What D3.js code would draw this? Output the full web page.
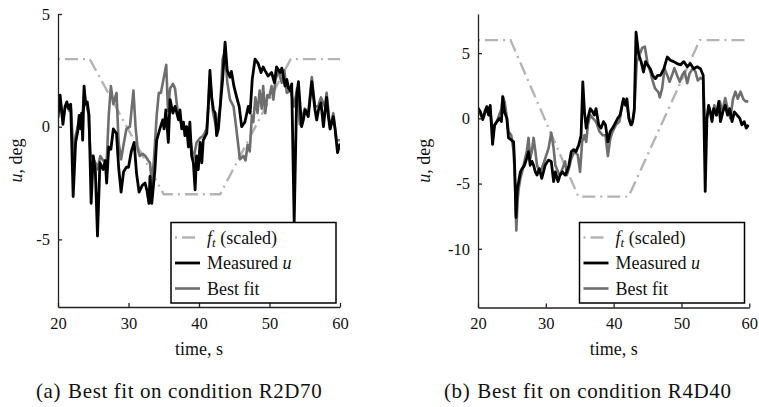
<!DOCTYPE html>
<html>
<head>
<meta charset="utf-8">
<script src="https://cdn.jsdelivr.net/npm/d3@7"></script>
<style>
  body { margin: 0; background: #fff; }
  svg text { font-family: "Liberation Serif", "Times New Roman", serif; fill: #111; }
</style>
</head>
<body>
<svg id="chart" width="759" height="407"></svg>
<script>
// time [s], value [deg] pairs

// (a) condition R2D70
var forcingA = [[20, 3], [24.5, 3], [35, -3], [43, -3], [53, 3], [60, 3]];
var measuredA = [
    [20.0, 0.4], [20.3, 1.4], [20.7, 0.1], [21.0, 0.9], [21.25, 1.1], [21.5, 0.8], [21.8, 1.0],
    [22.15, -3.1], [22.5, -0.7], [22.8, -0.2], [23.0, 0.5], [23.2, -0.1], [23.35, 0.6], [23.5, -0.6],
    [23.7, 1.8], [23.9, 1.0], [24.15, 1.1], [24.4, 0.5], [24.7, -3.4], [25.0, -1.3], [25.3, -2.0],
    [25.6, -4.85], [25.95, -1.6], [26.4, -1.9], [26.7, -1.5], [26.9, -2.5], [27.2, -0.9], [27.5, -1.0],
    [27.85, -0.1], [28.3, -0.3], [28.6, -1.8], [28.95, -2.9], [29.3, -2.0], [29.7, -1.8], [30.0, -1.8],
    [30.4, -1.1], [30.8, -0.7], [31.15, -2.1], [31.5, -2.9], [31.95, -2.6], [32.35, -2.5], [32.6, -2.8],
    [32.9, -3.4], [33.05, -2.2], [33.3, -3.4], [33.75, -1.9], [34.0, -0.6], [34.45, -0.1], [34.85, 0.3],
    [35.05, -0.1], [35.3, 0.75], [35.65, -0.7], [35.9, 1.2], [36.3, 0.6], [36.6, 0.9], [36.85, 0.6],
    [37.1, 0.3], [37.3, 0.75], [37.55, -0.1], [37.8, 0.2], [38.0, -0.4], [38.25, 0.0], [38.5, -0.9],
    [38.7, 0.2], [38.95, -1.3], [39.2, -1.6], [39.45, -2.8], [39.65, -1.3], [39.9, -1.9], [40.15, -0.7],
    [40.4, -1.6], [40.6, -0.6], [41.1, -0.3], [41.3, 0.75], [41.55, 2.5], [41.8, 1.3], [42.05, 0.75],
    [42.3, 0.6], [42.5, -0.4], [42.75, -0.1], [43.05, 1.05], [43.35, 2.1], [43.7, 3.75], [44.0, 2.5],
    [44.4, 2.2], [44.6, 2.45], [44.95, 1.8], [45.35, 1.3], [45.7, 0.9], [46.05, 0.0], [46.5, 0.2],
    [47.0, 0.9], [47.25, 0.6], [47.55, 2.1], [47.95, 3.0], [48.4, 2.8], [48.8, 2.4], [49.1, 2.65],
    [49.35, 2.5], [49.8, 2.25], [50.3, 2.4], [50.7, 1.95], [51.0, 2.65], [51.5, 2.4], [51.75, 2.6],
    [52.2, 1.8], [52.45, 2.1], [52.7, 1.7], [52.9, 1.6], [53.15, 1.9], [53.5, -4.25], [53.85, 1.3],
    [54.1, 2.0], [54.35, 0.9], [54.55, 0.0], [54.8, 0.3], [55.05, 0.75], [55.5, 0.45], [56.0, 2.0],
    [56.45, 0.75], [56.7, 0.3], [56.95, 0.75], [57.3, 1.05], [57.65, 0.0], [57.9, 0.75], [58.1, 1.3],
    [58.35, 0.45], [58.6, -0.1], [58.8, 0.15], [59.05, 0.45], [59.3, -0.1], [59.65, -1.15], [60.0, -0.75]
];
var fitA = [
    [20.0, 0.6], [20.3, 1.2], [20.7, 0.3], [21.0, 0.8], [21.3, 1.0], [21.6, 0.7], [21.85, 0.8],
    [22.2, -1.3], [22.5, -0.4], [22.8, 0.0], [23.1, 0.3], [23.4, 0.1], [23.7, 1.6], [24.0, 1.0],
    [24.3, 0.6], [24.6, -1.2], [25.0, -1.4], [25.3, -1.6], [25.6, -1.9], [26.0, -1.3], [26.4, -1.5],
    [26.9, -1.6], [27.2, 0.5], [27.5, 1.8], [27.85, 1.0], [28.3, 1.5], [28.6, -0.7], [28.95, -1.45],
    [29.3, -0.8], [29.7, -0.1], [30.2, 0.0], [30.7, 1.6], [31.0, 0.0], [31.3, -1.0], [31.6, -1.3],
    [32.0, -1.2], [32.4, -1.3], [32.8, -1.5], [33.05, -1.6], [33.3, -2.5], [33.6, -1.5], [34.0, 0.5],
    [34.3, 1.5], [34.6, 1.5], [34.9, 2.0], [35.35, 2.75], [35.6, 0.7], [35.9, 1.7], [36.3, 1.9],
    [36.6, 1.7], [37.0, 0.6], [37.4, 0.2], [37.8, -0.1], [38.2, -0.2], [38.7, -0.4], [39.2, -1.5],
    [39.65, -0.7], [40.15, -0.5], [40.6, -0.4], [41.1, -0.1], [41.55, 2.2], [42.0, 0.6], [42.5, -0.1],
    [43.0, 0.9], [43.35, 3.0], [43.7, 3.4], [44.0, 2.0], [44.4, 1.2], [44.9, 0.9], [45.3, -0.1],
    [45.6, -0.9], [45.8, -1.45], [46.3, -1.3], [46.6, -1.5], [46.9, -0.8], [47.2, -1.1], [47.5, 0.5],
    [47.7, 0.2], [48.0, 1.3], [48.3, 0.6], [48.6, 1.6], [48.9, 0.8], [49.1, 1.8], [49.4, 0.6],
    [49.7, 1.4], [49.95, 1.3], [50.3, 1.8], [50.55, 1.2], [50.85, 2.1], [51.3, 2.5], [51.5, 2.2],
    [51.75, 1.95], [52.1, 2.5], [52.45, 1.5], [53.0, 1.6], [53.5, 0.9], [53.9, 1.7], [54.3, 0.1],
    [54.6, 0.4], [55.0, 0.8], [55.5, 0.6], [56.0, 2.2], [56.45, 0.9], [56.9, 0.9], [57.3, 1.3],
    [57.85, 0.9], [58.1, 1.5], [58.6, -0.1], [59.05, 0.6], [59.5, -0.6], [60.0, -0.6]
];

// (b) condition R4D40
var forcingB = [[20, 6], [24.8, 6], [34.8, -6], [42.2, -6], [52.7, 6], [60, 6]];
var measuredB = [
    [20.0, 0.8], [20.35, 0.5], [20.7, -0.1], [21.0, 0.4], [21.3, 0.9], [21.55, 0.25], [21.8, 1.0],
    [22.15, -2.0], [22.45, -0.5], [22.8, -0.25], [23.15, 0.0], [23.45, -0.25], [23.65, 1.65], [23.9, 0.5],
    [24.25, 0.0], [24.5, -1.5], [24.9, -1.65], [25.25, -1.8], [25.4, -3.6], [25.6, -7.6], [25.8, -5.4],
    [26.0, -4.85], [26.25, -4.1], [26.5, -3.85], [26.85, -3.6], [27.2, -3.05], [27.45, -2.55], [27.7, -3.6],
    [27.95, -3.3], [28.2, -3.6], [28.45, -4.1], [28.7, -4.35], [29.05, -3.85], [29.4, -4.6], [29.9, -3.6],
    [30.4, -3.2], [30.8, -3.3], [31.15, -4.85], [31.4, -4.1], [31.8, -4.85], [32.1, -4.35], [32.45, -4.1],
    [32.85, -4.35], [33.1, -4.1], [33.4, -3.6], [33.75, -2.55], [34.1, -2.4], [34.45, -2.55], [34.85, -2.05],
    [35.2, -1.3], [35.45, 2.8], [35.7, 0.5], [35.95, -0.75], [36.2, 0.0], [36.55, 0.75], [36.9, 0.5],
    [37.15, 0.25], [37.4, 0.75], [37.8, -0.5], [38.15, -0.75], [38.5, -0.25], [38.8, -0.5], [39.15, -1.8],
    [39.5, -1.0], [39.85, -0.75], [40.1, -0.5], [40.35, -0.25], [40.6, 0.0], [40.95, 0.25], [41.25, 1.0],
    [41.45, 1.5], [41.75, 1.0], [41.95, 1.5], [42.25, 0.0], [42.55, -0.5], [42.8, -0.25], [43.05, 0.75],
    [43.3, 6.6], [43.7, 4.85], [44.05, 4.35], [44.4, 3.55], [44.7, 4.35], [45.0, 4.1], [45.4, 3.8],
    [45.75, 3.3], [46.15, 3.05], [46.5, 3.3], [46.9, 3.3], [47.4, 3.8], [47.9, 4.7], [48.35, 4.45],
    [48.85, 4.35], [49.35, 4.2], [49.85, 4.1], [50.35, 4.35], [50.85, 3.95], [51.3, 4.2], [51.8, 3.8],
    [52.3, 3.95], [52.8, 3.8], [53.2, 3.3], [53.5, -5.6], [53.75, 0.0], [54.0, 1.0], [54.25, 0.5],
    [54.5, -0.25], [54.75, 0.75], [55.15, 0.25], [55.5, 1.3], [55.75, -0.25], [56.1, 0.5], [56.45, 1.0],
    [56.8, 0.25], [57.1, 0.75], [57.45, -0.25], [57.8, 0.5], [58.2, 0.25], [58.6, 0.0], [58.9, -0.5],
    [59.25, -0.25], [59.55, -0.75], [59.9, -0.5]
];
var fitB = [
    [20.0, 0.5], [20.35, 0.3], [20.7, 0.0], [21.0, 0.6], [21.3, 0.9], [21.55, 0.5], [21.8, 0.5],
    [22.2, -1.0], [22.5, -0.5], [22.8, -0.2], [23.15, 0.3], [23.45, 0.7], [23.65, 1.7], [23.95, 1.2],
    [24.3, -0.1], [24.5, -1.0], [24.9, -1.3], [25.25, -2.5], [25.45, -4.8], [25.65, -8.6], [25.85, -6.2],
    [26.0, -5.4], [26.25, -4.6], [26.5, -4.1], [26.85, -3.3], [27.2, -2.5], [27.45, -1.5], [27.7, -3.1],
    [27.95, -2.5], [28.2, -1.5], [28.45, -2.5], [28.7, -3.6], [29.05, -4.1], [29.4, -3.85], [29.9, -3.1],
    [30.4, -2.3], [30.8, -1.1], [31.15, -2.3], [31.4, -3.6], [31.8, -4.1], [32.1, -4.35], [32.45, -3.85],
    [32.85, -3.3], [33.1, -4.35], [33.4, -3.85], [33.75, -3.1], [34.2, -2.55], [34.7, -2.8], [35.05, -4.1],
    [35.35, -1.8], [35.7, -1.3], [35.95, -1.8], [36.2, -0.5], [36.55, 0.25], [36.95, 0.0], [37.4, -0.25],
    [37.9, -1.0], [38.4, -1.3], [38.8, -1.3], [39.15, -2.9], [39.5, -1.55], [39.85, -1.0], [40.35, -0.5],
    [40.85, -0.25], [41.35, 1.3], [41.85, 1.3], [42.35, -0.25], [42.7, -0.5], [43.05, 0.5], [43.4, 4.3],
    [43.8, 4.85], [44.2, 5.4], [44.6, 5.5], [45.0, 4.2], [45.4, 3.6], [45.8, 2.8], [46.1, 2.3],
    [46.6, 2.0], [46.8, 1.6], [47.15, 2.3], [47.5, 3.8], [47.9, 3.3], [48.25, 2.8], [48.6, 3.3],
    [48.95, 3.85], [49.35, 3.3], [49.75, 2.8], [50.1, 3.3], [50.45, 3.6], [50.85, 2.7], [51.2, 3.45],
    [51.7, 3.85], [52.05, 3.6], [52.4, 2.9], [52.8, 3.1], [53.2, 3.0], [53.5, -1.0], [53.8, 0.2],
    [54.15, 0.75], [54.5, 0.0], [54.85, 1.0], [55.25, 0.25], [55.65, 1.3], [56.0, 0.5], [56.45, 1.55],
    [56.8, 0.75], [57.2, 0.0], [57.6, 1.5], [57.95, 2.05], [58.3, 1.5], [58.7, 2.05], [59.1, 1.5],
    [59.45, 1.3], [59.85, 1.3]
];

var xTicks = [20, 30, 40, 50, 60];
var yTicksA = [-5, 0, 5];
var yTicksB = [-10, -5, 0, 5];
var captions = ["Best fit on condition R2D70", "Best fit on condition R4D40"];

var COLOR_FORCING = "#b4b4b4",
    COLOR_MEASURED = "#000000",
    COLOR_FIT = "#6e6e6e";

var svg = d3.select("#chart");

// plain hyphen for negatives, like the original figure
function tickText(d) {
    return String(d);
}

function drawPanel(opt) {
    var g = svg.append("g"),
        x = d3.scaleLinear().domain([20, 60]).range([opt.left, opt.right]),
        y = d3.scaleLinear().domain(opt.yDomain).range([opt.bottom, opt.top]),
        line = d3.line()
            .x(function (d) { return x(d[0]); })
            .y(function (d) { return y(d[1]); }),
        clipId = "clip-" + opt.id,
        plot, lg, rows;

    g.append("clipPath").attr("id", clipId)
        .append("rect")
        .attr("x", opt.left).attr("y", opt.top)
        .attr("width", opt.right - opt.left).attr("height", opt.bottom - opt.top);

    plot = g.append("g").attr("clip-path", "url(#" + clipId + ")");
    plot.append("path").datum(opt.forcing)
        .attr("d", line)
        .style("fill", "none")
        .style("stroke", COLOR_FORCING)
        .style("stroke-width", 2.4)
        .style("stroke-dasharray", "2,5,13,5");
    plot.append("path").datum(opt.fit)
        .attr("d", line)
        .style("fill", "none")
        .style("stroke", COLOR_FIT)
        .style("stroke-width", 2.6)
        .style("stroke-linejoin", "round");
    plot.append("path").datum(opt.measured)
        .attr("d", line)
        .style("fill", "none")
        .style("stroke", COLOR_MEASURED)
        .style("stroke-width", 2.8)
        .style("stroke-linejoin", "round");

    // axes, ticks drawn inward
    g.append("g")
        .attr("class", "axis")
        .attr("transform", "translate(" + opt.left + ",0)")
        .call(d3.axisLeft(y).tickValues(opt.yTicks).tickFormat(tickText)
            .tickSizeInner(-4).tickSizeOuter(0).tickPadding(8));
    g.append("g")
        .attr("class", "axis")
        .attr("transform", "translate(0," + opt.bottom + ")")
        .call(d3.axisBottom(x).tickValues(xTicks).tickFormat(tickText)
            .tickSizeInner(-4).tickSizeOuter(0).tickPadding(10));
    g.selectAll(".axis path, .axis line").style("stroke", "#222").style("stroke-width", 1.3);
    g.selectAll(".axis text")
        .style("font-family", "Liberation Serif, serif")
        .style("font-size", "16.5px")
        .style("fill", "#111");

    // axis titles
    g.append("text")
        .attr("transform", "translate(" + opt.yLabelX + "," + ((opt.top + opt.bottom) / 2) + ") rotate(-90)")
        .attr("text-anchor", "middle")
        .style("font-size", "18px")
        .call(function (t) {
            t.append("tspan").style("font-style", "italic").text("u");
            t.append("tspan").text(", deg");
        });
    g.append("text")
        .attr("x", (opt.left + opt.right) / 2)
        .attr("y", 355)
        .attr("text-anchor", "middle")
        .style("font-size", "18px")
        .text("time, s");

    // legend
    lg = g.append("g").attr("transform", "translate(" + opt.legendX + ",222.5)");
    lg.append("rect")
        .attr("width", 165).attr("height", 80.5)
        .style("fill", "#fff")
        .style("stroke", "#000")
        .style("stroke-width", 1.5);
    rows = [
        { color: COLOR_FORCING, dash: "2,5,13,5", w: 2.4 },
        { color: COLOR_MEASURED, dash: null, w: 2.8 },
        { color: COLOR_FIT, dash: null, w: 2.6 }
    ];
    rows.forEach(function (r, i) {
        var yy = 15 + i * 25.5;
        lg.append("line")
            .attr("x1", 4).attr("x2", 29)
            .attr("y1", yy).attr("y2", yy)
            .style("stroke", r.color)
            .style("stroke-width", r.w)
            .style("stroke-dasharray", r.dash);
    });
    lg.append("text").attr("x", 36).attr("y", 21).style("font-size", "18px")
        .call(function (t) {
            t.append("tspan").style("font-style", "italic").text("f");
            t.append("tspan").style("font-style", "italic").style("font-size", "13px").attr("dy", 3).text("t");
            t.append("tspan").attr("dy", -3).text(" (scaled)");
        });
    lg.append("text").attr("x", 36).attr("y", 46.5).style("font-size", "18px")
        .call(function (t) {
            t.append("tspan").text("Measured ");
            t.append("tspan").style("font-style", "italic").text("u");
        });
    lg.append("text").attr("x", 36).attr("y", 72).style("font-size", "18px")
        .text("Best fit");

    // caption
    g.append("text")
        .attr("x", opt.captionX)
        .attr("y", 398)
        .style("font-size", "21px")
        .style("letter-spacing", "0.6px")
        .call(function (t) {
            t.append("tspan").text(opt.tag);
            t.append("tspan").attr("dx", 7).text(opt.caption);
        });
}

drawPanel({
    id: "a", left: 58, right: 340, top: 14, bottom: 307,
    yDomain: [-8, 5], yTicks: yTicksA, yLabelX: 22,
    forcing: forcingA, measured: measuredA, fit: fitA,
    legendX: 171, captionX: 36, tag: "(a)", caption: captions[0]
});
drawPanel({
    id: "b", left: 478, right: 749.3, top: 14, bottom: 307.5,
    yDomain: [-14.5, 8], yTicks: yTicksB, yLabelX: 430,
    forcing: forcingB, measured: measuredB, fit: fitB,
    legendX: 579.5, captionX: 444, tag: "(b)", caption: captions[1]
});
</script>
</body>
</html>
